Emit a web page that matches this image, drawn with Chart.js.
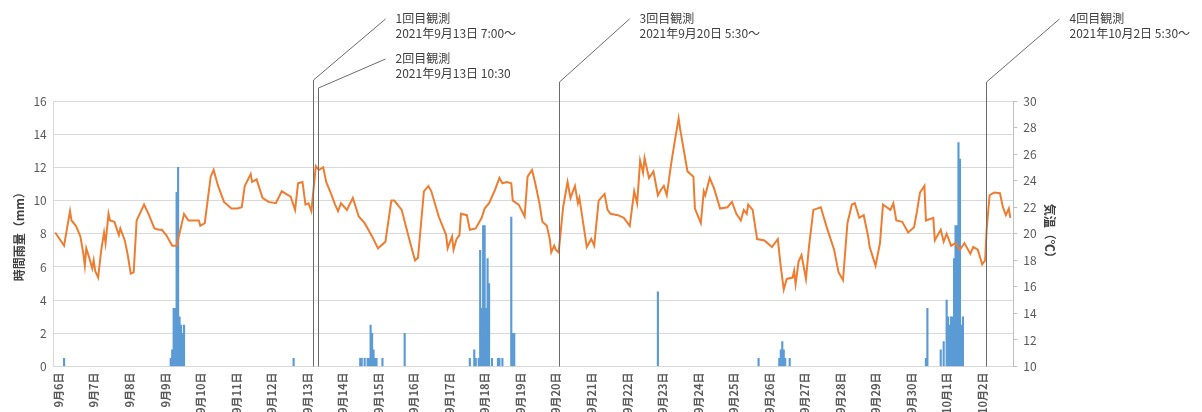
<!DOCTYPE html>
<html>
<head>
<meta charset="utf-8">
<script src="https://cdn.jsdelivr.net/npm/chart.js@4.4.1/dist/chart.umd.min.js"></script>
<style>
  html, body { margin: 0; padding: 0; background: #fff; overflow: hidden; }
</style>
</head>
<body>
<canvas id="chart" width="1202" height="420"></canvas>
<script>
// hours counted from 2021-09-06 00:00
const dayLabels = [
  '9月6日', '9月7日', '9月8日', '9月9日', '9月10日', '9月11日', '9月12日', '9月13日',
  '9月14日', '9月15日', '9月16日', '9月17日', '9月18日', '9月19日', '9月20日', '9月21日',
  '9月22日', '9月23日', '9月24日', '9月25日', '9月26日', '9月27日', '9月28日', '9月29日',
  '9月30日', '10月1日', '10月2日'
];

// hourly rainfall (mm), only the hours with rain
const rainHours = [7, 79, 80, 81, 82, 83, 84, 85, 86, 87, 88, 162,
  207, 208, 210, 212, 213, 214, 215, 216, 217, 218, 222, 237,
  281, 284, 285, 287, 288, 289, 290, 291, 292, 293, 294, 296, 300, 301, 303, 309, 310, 311,
  408, 476, 490, 491, 492, 493, 494, 497,
  589, 590, 599, 601, 603, 604, 605, 606, 607, 608, 609, 610, 611, 612, 613, 614];
const rainMm = [0.5, 0.5, 1.0, 3.5, 3.5, 10.5, 12.0, 3.0, 2.5, 2.0, 2.5, 0.5,
  0.5, 0.5, 0.5, 0.5, 0.5, 2.5, 2.0, 1.0, 0.5, 0.5, 0.5, 2.0,
  0.5, 1.0, 0.5, 0.5, 7.0, 3.5, 8.5, 8.5, 3.5, 6.5, 5.0, 0.5, 0.5, 0.5, 0.5, 9.0, 2.0, 2.0,
  4.5, 0.5, 0.5, 1.0, 1.5, 1.0, 0.5, 0.5,
  0.5, 3.5, 1.0, 1.5, 4.0, 3.0, 2.5, 3.0, 3.0, 6.5, 8.5, 8.5, 13.5, 12.5, 2.5, 3.0];

// air temperature (℃)
const tempHours = [1, 7, 11, 12, 15, 18, 20, 21, 22, 24, 26, 27, 28, 30, 32, 34, 35, 37, 38, 41,
  44, 45, 48, 50, 52, 54, 56, 61, 64, 68, 71, 73, 76, 80, 83, 88, 91, 98, 99, 102,
  106, 108, 111, 115, 120, 124, 127, 129, 133, 134, 137, 141, 145, 150, 154, 160, 163, 165, 168, 170,
  172, 174, 177, 179, 182, 184, 187, 190, 192, 194, 198, 202, 206, 210, 215, 219, 224, 228, 230, 235,
  238, 242, 244, 246, 250, 253, 255, 260, 265, 266, 269, 270, 272, 274, 275, 279, 281, 285, 289, 291,
  294, 298, 301, 303, 306, 309, 310, 314, 318, 320, 323, 325, 328, 330, 333, 335, 336, 338, 339, 341,
  344, 347, 349, 352, 354, 355, 360, 363, 365, 368, 372, 374, 376, 381, 385, 389, 392, 394, 396, 398,
  399, 402, 405, 408, 410, 412, 414, 417, 419, 422, 423, 428, 432, 433, 437, 439, 440, 443, 446, 450,
  455, 458, 461, 464, 466, 468, 469, 472, 475, 480, 485, 489, 491, 493, 495, 499, 500, 501, 503, 505,
  508, 510, 513, 518, 522, 527, 530, 533, 536, 539, 541, 544, 547, 550, 551, 555, 558, 560, 565, 567,
  569, 573, 577, 581, 583, 585, 588, 589, 594, 595, 599, 601, 603, 606, 609, 612, 615, 619, 621, 624,
  627, 629, 630, 632, 635, 639, 641, 643, 645, 646];
const tempC = [20.1, 19.1, 21.7, 21.0, 20.6, 19.8, 18.5, 17.6, 18.9, 18.2, 17.4, 18.0, 17.2, 16.7, 18.7, 20.1, 19.3, 21.5, 21.0, 20.9,
  19.9, 20.4, 19.5, 18.4, 17.0, 17.1, 21.0, 22.2, 21.5, 20.4, 20.3, 20.3, 19.9, 19.1, 19.1, 21.5, 21.0, 21.0, 20.6, 20.8,
  24.3, 24.8, 23.6, 22.4, 21.9, 21.9, 22.0, 23.6, 24.5, 23.9, 24.1, 22.7, 22.4, 22.3, 23.2, 22.8, 21.8, 23.8, 23.9, 22.2,
  22.3, 21.7, 25.1, 24.8, 25.0, 23.9, 23.1, 22.2, 21.7, 22.3, 21.8, 22.7, 21.3, 20.8, 19.8, 18.9, 19.4, 22.5, 22.5, 21.8,
  20.5, 18.8, 18.0, 18.2, 23.2, 23.6, 23.2, 21.3, 19.9, 18.9, 19.8, 18.8, 19.6, 19.9, 21.5, 21.4, 20.3, 20.4, 21.2, 21.9,
  22.3, 23.3, 24.2, 23.8, 23.9, 23.8, 22.5, 22.2, 21.3, 24.3, 24.8, 23.9, 22.3, 20.9, 20.6, 19.6, 18.6, 19.1, 18.8, 18.6,
  22.0, 23.9, 22.7, 23.6, 22.3, 22.7, 19.0, 19.6, 19.1, 22.5, 23.0, 21.8, 21.5, 21.4, 21.2, 20.6, 23.2, 22.3, 25.5, 24.6,
  25.7, 24.2, 24.7, 22.9, 23.3, 23.6, 22.9, 25.3, 26.7, 28.7, 27.9, 24.7, 24.3, 21.9, 20.8, 23.2, 22.9, 24.2, 23.4, 21.9,
  22.0, 22.4, 21.5, 21.0, 21.8, 21.5, 22.2, 21.8, 19.6, 19.5, 19.0, 19.6, 17.5, 15.8, 16.6, 16.7, 17.2, 16.2, 17.9, 18.4,
  16.6, 19.0, 21.8, 22.0, 20.5, 18.8, 17.1, 16.5, 20.8, 22.2, 22.3, 21.2, 21.4, 19.8, 19.0, 17.6, 19.3, 22.2, 21.8, 22.3,
  21.0, 20.9, 20.1, 20.5, 21.7, 23.1, 23.6, 21.0, 21.2, 19.5, 20.3, 19.4, 20.0, 19.1, 19.3, 18.8, 19.3, 18.5, 19.0, 18.8,
  17.7, 18.0, 20.3, 22.9, 23.1, 23.05, 22.0, 21.4, 21.9, 21.2];

// observation times
const obsHours = [175, 178.5, 341.5, 629.5];
const obsTitles = ['1回目観測', '2回目観測', '3回目観測', '4回目観測'];
const obsDates = ['2021年9月13日 7:00～', '2021年9月13日 10:30', '2021年9月20日 5:30～', '2021年10月2日 5:30～'];

const FONT = "'Noto Sans CJK JP', 'Noto Sans', sans-serif";

// leader lines from each observation line up to its label
const obsPlugin = {
  id: 'obsLines',
  afterDatasetsDraw(chart) {
    const { ctx, chartArea, scales } = chart;
    const leaders = [
      { bendY: 80, dx: 72, endY: 19, textY: 18 },
      { bendY: 88, dx: 67, endY: 59, textY: 58 },
      { bendY: 82, dx: 70, endY: 19, textY: 18 },
      { bendY: 82, dx: 73, endY: 19, textY: 18 }
    ];
    ctx.save();
    ctx.strokeStyle = '#6b6b6b';
    ctx.lineWidth = 1;
    ctx.fillStyle = '#404040';
    ctx.font = '12px ' + FONT;
    ctx.textBaseline = 'middle';
    obsHours.forEach((h, i) => {
      const x = Math.round(scales.x.getPixelForValue(h)) + 0.5;
      const l = leaders[i];
      ctx.beginPath();
      ctx.moveTo(x, chartArea.bottom);
      ctx.lineTo(x, l.bendY);
      ctx.lineTo(x + l.dx, l.endY);
      ctx.stroke();
      ctx.fillText(obsTitles[i], x + l.dx + 10, l.textY);
      ctx.fillText(obsDates[i], x + l.dx + 10, l.textY + 15);
    });
    ctx.restore();
  }
};

new Chart(document.getElementById('chart'), {
  type: 'bar',
  data: {
    datasets: [
      {
        type: 'line',
        label: '気温',
        data: tempHours.map((h, i) => ({ x: h, y: tempC[i] })),
        yAxisID: 'y1',
        borderColor: '#ED7D31',
        borderWidth: 2,
        pointRadius: 0,
        tension: 0,
        order: 1
      },
      {
        label: '時間雨量',
        data: rainHours.map((h, i) => ({ x: h, y: rainMm[i] })),
        yAxisID: 'y',
        backgroundColor: '#5B9BD5',
        barPercentage: 1,
        categoryPercentage: 1,
        order: 2
      }
    ]
  },
  options: {
    responsive: false,
    animation: false,
    layout: { padding: { top: 101, left: 10, right: 141, bottom: 0 } },
    plugins: {
      legend: { display: false },
      tooltip: { enabled: false }
    },
    scales: {
      x: {
        type: 'linear',
        min: 0,
        max: 648,
        offset: false,
        afterBuildTicks: (scale) => {
          scale.ticks = dayLabels.map((_, i) => ({ value: i * 24 }));
        },
        ticks: {
          autoSkip: false,
          maxRotation: 90,
          minRotation: 90,
          labelOffset: 5,
          padding: 6,
          color: '#595959',
          font: { family: FONT, size: 11, weight: 'bold' },
          callback: (value) => dayLabels[value / 24]
        },
        grid: { drawOnChartArea: false, drawTicks: false },
        border: { color: '#d9d9d9' }
      },
      y: {
        position: 'left',
        min: 0,
        max: 16,
        ticks: { stepSize: 2, color: '#595959', padding: 7, font: { family: FONT, size: 12 } },
        grid: { color: '#d9d9d9', drawTicks: false },
        border: { color: '#d9d9d9' },
        title: {
          display: true,
          text: '時間雨量（mm）',
          color: '#404040',
          font: { family: FONT, size: 12, weight: 'bold' },
          padding: { top: 2, bottom: 0 }
        }
      },
      y1: {
        position: 'right',
        min: 10,
        max: 30,
        ticks: { stepSize: 2, color: '#595959', padding: 6, font: { family: FONT, size: 12 } },
        grid: { drawOnChartArea: false, color: '#bfbfbf', tickLength: 4 },
        border: { color: '#bfbfbf' },
        title: {
          display: true,
          text: '気温（℃）',
          color: '#404040',
          font: { family: FONT, size: 12, weight: 'bold' },
          padding: { top: 4, bottom: 0 }
        }
      }
    }
  },
  plugins: [obsPlugin]
});
</script>
</body>
</html>
